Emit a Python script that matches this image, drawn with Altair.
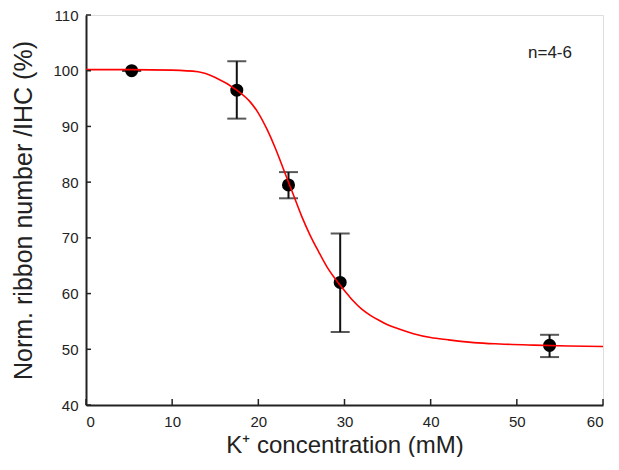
import altair as alt
import pandas as pd

# Measured data (mean with error bar ends)
conc = [5.3, 17.5, 23.5, 29.5, 53.8]
ribbon = [100.0, 96.5, 79.5, 62.0, 50.7]
err_lo = [100.0, 91.4, 77.1, 53.1, 48.6]
err_hi = [100.0, 101.7, 81.8, 70.8, 52.6]

# Fitted curve
fit_x = [0, 5, 10, 13, 15, 17.5, 19, 20, 21, 22, 23, 24, 25, 26, 27, 28, 29.5,
         30.5, 31, 32, 33, 34, 35, 36, 38, 40, 42, 45, 48, 52, 56, 60]
fit_y = [100.2, 100.2, 100.1, 99.8, 98.8, 96.5, 94.5, 92.4, 89.5, 86.0, 82.0,
         78.0, 74.0, 70.5, 67.5, 64.7, 61.5, 59.6, 58.7, 57.2, 56.1, 55.2, 54.4,
         53.8, 52.8, 52.1, 51.7, 51.2, 50.95, 50.75, 50.6, 50.5]

x_ticks = [0, 10, 20, 30, 40, 50, 60]
y_ticks = [40, 50, 60, 70, 80, 90, 100, 110]

pts = pd.DataFrame({"conc": conc, "ribbon": ribbon, "lo": err_lo, "hi": err_hi})
fit = pd.DataFrame({"x": fit_x, "y": fit_y})
xt = pd.DataFrame({"t": x_ticks})
yt = pd.DataFrame({"t": y_ticks})

W, H = 517, 390
FONT = "Liberation Sans"
INK = "#222222"

xscale = alt.Scale(domain=[0, 60], nice=False, zero=False)
yscale = alt.Scale(domain=[40, 110], nice=False, zero=False)

x_axis = alt.Axis(values=x_ticks, title="K\u207a concentration (mM)", grid=False,
                  tickSize=0, labelPadding=9, labelFontSize=15, titleFontSize=24,
                  titlePadding=4, titleFontWeight="normal", labelFont=FONT,
                  titleFont=FONT, labelColor=INK, titleColor=INK,
                  domainColor=INK, domainWidth=2)
y_axis = alt.Axis(values=y_ticks, title="Norm. ribbon number /IHC (%)", grid=False,
                  tickSize=0, labelPadding=8, labelFontSize=15, titleFontSize=25,
                  titlePadding=16, titleFontWeight="normal", labelFont=FONT,
                  titleFont=FONT, labelColor=INK, titleColor=INK,
                  domainColor=INK, domainWidth=2)

base = alt.Chart(pts)

bars = base.mark_rule(color="#111111", strokeWidth=2).encode(
    x=alt.X("conc:Q", scale=xscale, axis=x_axis),
    y=alt.Y("lo:Q", scale=yscale, axis=y_axis),
    y2="hi:Q",
)
cap_lo = base.mark_tick(color="#111111", orient="horizontal", size=19, thickness=2).encode(
    x=alt.X("conc:Q", scale=xscale), y=alt.Y("lo:Q", scale=yscale)
)
cap_hi = base.mark_tick(color="#111111", orient="horizontal", size=19, thickness=2).encode(
    x=alt.X("conc:Q", scale=xscale), y=alt.Y("hi:Q", scale=yscale)
)
dots = base.mark_circle(color="#000000", size=170, opacity=1).encode(
    x=alt.X("conc:Q", scale=xscale), y=alt.Y("ribbon:Q", scale=yscale)
)
curve = alt.Chart(fit).mark_line(color="#ff0000", strokeWidth=1.6,
                                 interpolate="monotone").encode(
    x=alt.X("x:Q", scale=xscale), y=alt.Y("y:Q", scale=yscale)
)

xtick_marks = alt.Chart(xt).mark_rule(color=INK, strokeWidth=1.5).encode(
    x=alt.X("t:Q", scale=xscale), y=alt.value(H), y2=alt.value(H - 6)
)
ytick_marks = alt.Chart(yt).mark_rule(color=INK, strokeWidth=1.5).encode(
    y=alt.Y("t:Q", scale=yscale), x=alt.value(0), x2=alt.value(5)
)

note = alt.Chart(pd.DataFrame({"label": ["n=4-6"]})).mark_text(
    font=FONT, fontSize=17, color=INK, align="center", baseline="middle"
).encode(x=alt.value(464), y=alt.value(38), text="label:N")

chart = alt.layer(
    bars, cap_lo, cap_hi, dots, curve, xtick_marks, ytick_marks, note
).properties(
    width=W, height=H,
    autosize=alt.AutoSizeParams(type="none"),
    padding={"left": 78, "top": 7, "right": 8, "bottom": 52},
).configure_view(stroke=None).configure(background="white")

chart.save("out.html", embed_options={"renderer": "svg", "actions": False})
